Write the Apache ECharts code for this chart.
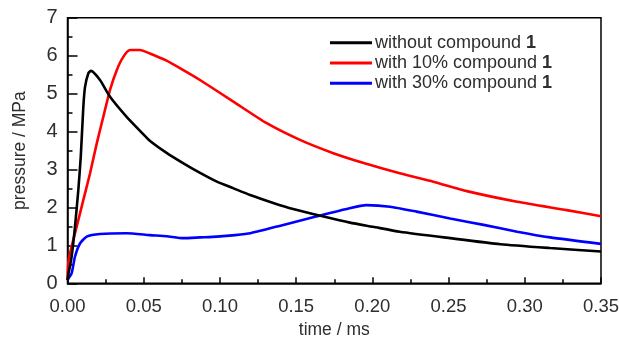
<!DOCTYPE html>
<html>
<head>
<meta charset="utf-8">
<script src="https://cdn.jsdelivr.net/npm/echarts@6/dist/echarts.min.js"></script>
<style>
  html, body { margin: 0; padding: 0; background: #fff; }
  #chart { width: 619px; height: 339px; }
</style>
</head>
<body>
<div id="chart"></div>
<script>
// values
const blackTime = [0, 0.0007, 0.0027, 0.0049, 0.0071, 0.0087, 0.0104, 0.0115, 0.0137, 0.0154, 0.0213, 0.0279, 0.0388, 0.0476, 0.054, 0.065, 0.0758, 0.087, 0.098, 0.1086, 0.1198, 0.135, 0.148, 0.168, 0.1853, 0.2004, 0.218, 0.251, 0.284, 0.3165, 0.35];
const blackPressure = [0.08, 0.26, 0.70, 1.49, 2.46, 3.34, 4.66, 5.18, 5.54, 5.60, 5.36, 4.92, 4.39, 4.02, 3.76, 3.44, 3.17, 2.91, 2.68, 2.51, 2.33, 2.12, 1.96, 1.76, 1.60, 1.49, 1.36, 1.19, 1.03, 0.93, 0.84];

const redTime = [0, 0.0007, 0.0027, 0.006, 0.0104, 0.0148, 0.0192, 0.0235, 0.0279, 0.0323, 0.0366, 0.041, 0.0476, 0.054, 0.065, 0.076, 0.0869, 0.1088, 0.1307, 0.1525, 0.1744, 0.196, 0.218, 0.24, 0.262, 0.295, 0.3275, 0.35];
const redPressure = [0.1, 0.61, 0.97, 1.49, 2.20, 2.90, 3.69, 4.39, 5.10, 5.62, 5.97, 6.15, 6.15, 6.06, 5.87, 5.62, 5.36, 4.79, 4.22, 3.78, 3.43, 3.15, 2.90, 2.68, 2.43, 2.15, 1.93, 1.77];

const blueTime = [0, 0.0007, 0.0027, 0.0049, 0.0082, 0.0126, 0.0213, 0.0388, 0.054, 0.065, 0.076, 0.087, 0.098, 0.11, 0.12, 0.1416, 0.163, 0.185, 0.196, 0.2116, 0.229, 0.251, 0.273, 0.295, 0.3166, 0.35];
const bluePressure = [0.08, 0.13, 0.26, 0.70, 1.05, 1.23, 1.30, 1.32, 1.27, 1.24, 1.19, 1.21, 1.23, 1.27, 1.32, 1.54, 1.76, 1.98, 2.06, 2.02, 1.89, 1.71, 1.54, 1.36, 1.21, 1.04];

const seriesNames = ["without compound 1", "with 10% compound 1", "with 30% compound 1"];
const seriesColors = ["#000000", "#ff0000", "#0000ff"];
const xTicks = [0, 0.35, 0.05];
const yTicks = [0, 7, 1];

const pairs = (xs, ys) => xs.map((x, i) => [x, ys[i]]);
const curves = [
  pairs(blackTime, blackPressure),
  pairs(redTime, redPressure),
  pairs(blueTime, bluePressure),
];

const FONT = "Liberation Sans, Arial, sans-serif";
const TEXT = "#2e2e2e";

const chart = echarts.init(document.getElementById("chart"));
chart.setOption({
  animation: false,
  grid: {
    left: 67.5, right: 18, top: 17.8, bottom: 55.7,
    outerBoundsMode: "none",
    show: true, borderColor: "#000", borderWidth: 1.5, backgroundColor: "transparent",
  },
  legend: {
    orient: "vertical",
    left: 330, top: 32.5, padding: 0,
    itemWidth: 42, itemHeight: 3, itemGap: 0,
    icon: "rect",
    data: seriesNames,
    formatter: (name) => name.replace(/1$/, "{b|1}"),
    textStyle: {
      fontFamily: FONT, fontSize: 18, color: TEXT, lineHeight: 20.3, padding: [0, 0, 0, -2],
      rich: { b: { fontFamily: FONT, fontSize: 18, fontWeight: "bold", color: TEXT } },
    },
  },
  xAxis: {
    type: "value",
    min: xTicks[0], max: xTicks[1], interval: xTicks[2],
    name: "time / ms", nameLocation: "middle", nameGap: 33,
    nameTextStyle: { fontFamily: FONT, fontSize: 17.5, color: TEXT },
    axisLine: { lineStyle: { color: "#000", width: 1.5 } },
    axisTick: { inside: true, length: 6, lineStyle: { color: "#000", width: 1.5 } },
    minorTick: { show: true, splitNumber: 2, length: 4, lineStyle: { color: "#000", width: 1.5 } },
    axisLabel: { fontFamily: FONT, fontSize: 18.5, color: TEXT, margin: 14, formatter: (v) => v.toFixed(2) },
    splitLine: { show: false },
  },
  yAxis: {
    type: "value",
    min: yTicks[0], max: yTicks[1], interval: yTicks[2],
    name: "pressure / MPa", nameLocation: "middle", nameGap: 38,
    nameTextStyle: { fontFamily: FONT, fontSize: 17.5, color: TEXT },
    axisLine: { lineStyle: { color: "#000", width: 1.5 } },
    axisTick: { inside: true, length: 10, lineStyle: { color: "#000", width: 1.5 } },
    minorTick: { show: true, splitNumber: 2, length: 5, lineStyle: { color: "#000", width: 1.5 } },
    axisLabel: { fontFamily: FONT, fontSize: 20, color: TEXT, margin: 10 },
    splitLine: { show: false },
  },
  series: curves.map((data, i) => ({
    name: seriesNames[i],
    type: "line",
    data,
    smooth: 0.2,
    showSymbol: false,
    lineStyle: { color: seriesColors[i], width: 2.6 },
    itemStyle: { color: seriesColors[i] },
    z: 3 - i,
  })),
});
</script>
</body>
</html>
